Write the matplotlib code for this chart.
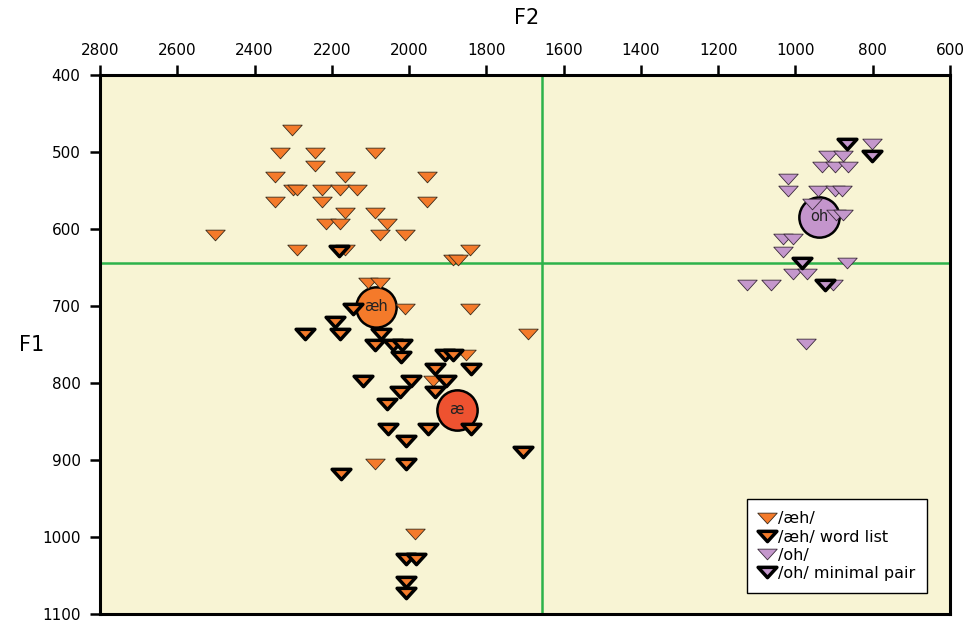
import matplotlib
matplotlib.use('Agg')
import matplotlib.pyplot as plt
from matplotlib.path import Path
from matplotlib.markers import MarkerStyle
import numpy as np

plt.rcParams['font.family'] = ['DejaVu Sans']

# /æh/ tokens (F2, F1)
aeh_f2 = [2302, 2334, 2244, 2244, 2088, 2348, 2166, 1953, 2301, 2289, 2226, 2179, 2134,
          2348, 2225, 1953, 2166, 2088, 2215, 2179, 2056, 2502, 2075, 2011, 2289, 2166,
          1842, 1887, 1873, 2106, 2075, 2011, 1842, 1692, 1853, 1939, 2088, 1985]
aeh_f1 = [471, 501, 501, 518, 501, 533, 533, 533, 549, 549, 549, 549, 549,
          565, 565, 565, 579, 579, 594, 594, 594, 608, 608, 608, 627, 627,
          627, 640, 640, 670, 670, 704, 704, 736, 764, 797, 905, 996]

# /æh/ word list tokens
wl_f2 = [2181, 2146, 2192, 2269, 2179, 2074, 2088, 2041, 2019, 2022, 1907, 1886, 1933,
         1841, 2119, 1995, 1904, 2024, 1933, 2056, 2054, 1950, 1841, 2008, 1704, 2009,
         2177, 2009, 1981, 2009, 2009]
wl_f1 = [628, 704, 721, 736, 736, 736, 751, 751, 751, 766, 764, 764, 782,
         782, 797, 797, 797, 812, 812, 827, 860, 860, 860, 875, 890, 905,
         918, 1029, 1029, 1058, 1073]

# /oh/ tokens
oh_f2 = [803, 915, 876, 932, 898, 863, 1019, 1019, 941, 898, 880, 958, 894, 876,
         1032, 1006, 1032, 867, 1006, 971, 1126, 1064, 902, 973]
oh_f1 = [490, 505, 505, 519, 519, 519, 535, 551, 551, 551, 551, 568, 582, 582,
         613, 613, 630, 644, 658, 658, 673, 673, 673, 749]

# /oh/ minimal pair tokens
mp_f2 = [867, 803, 984, 924]
mp_f1 = [490, 505, 644, 673]

# vowel means
mean_labels = ['æh', 'æ', 'oh']
mean_f2 = [2086, 1877, 939]
mean_f1 = [701, 835, 584]
mean_colors = ['#f47a2a', '#ee5230', '#c495cc']

# overall means (reference lines)
grand_f2 = 1655
grand_f1 = 644

orange = '#f47a2a'
purple = '#c497cc'
# flat downward triangle
tri_path = Path([(-1, 0.55), (1, 0.55), (0, -0.55), (-1, 0.55)],
                [Path.MOVETO, Path.LINETO, Path.LINETO, Path.CLOSEPOLY])
tri = MarkerStyle(tri_path, joinstyle='miter')

fig = plt.figure(figsize=(9.69, 6.26), dpi=100)
ax = fig.add_axes([0.1032, 0.0192, 0.8772, 0.861])
ax.set_facecolor('#f8f4d4')

ax.axvline(grand_f2, color='#2db24a', lw=1.8, zorder=1)
ax.axhline(grand_f1, color='#2db24a', lw=1.8, zorder=1)

for lab, x, y, c in zip(mean_labels, mean_f2, mean_f1, mean_colors):
    ax.plot(x, y, 'o', ms=29, mfc=c, mec='black', mew=1.8, zorder=2)
    ax.text(x, y, lab, ha='center', va='center', fontsize=10.5, color='#222222', zorder=2)

ax.plot(aeh_f2, aeh_f1, ls='none', marker=tri, ms=14, mfc=orange, mec='#3a2a1a',
        mew=0.6, zorder=3, label='/æh/')
ax.plot(wl_f2, wl_f1, ls='none', marker=tri, ms=13.5, mfc=orange, mec='black',
        mew=2.5, zorder=4, label='/æh/ word list')
ax.plot(oh_f2, oh_f1, ls='none', marker=tri, ms=14, mfc=purple, mec='#3a2a3a',
        mew=0.6, zorder=3, label='/oh/')
ax.plot(mp_f2, mp_f1, ls='none', marker=tri, ms=13.5, mfc=purple, mec='black',
        mew=2.5, zorder=4, label='/oh/ minimal pair')

ax.set_xlim(2800, 600)
ax.set_ylim(1100, 400)
ax.set_xticks(np.arange(2800, 599, -200))
ax.set_yticks(np.arange(400, 1101, 100))
ax.xaxis.tick_top()
ax.tick_params(axis='x', direction='out', length=7, width=1.8, labelsize=11, pad=5)
ax.tick_params(axis='y', direction='out', length=7, width=1.8, labelsize=11, pad=7)
for s in ax.spines.values():
    s.set_linewidth(2.2)

fig.text(527 / 969, 1 - 18 / 626, 'F2', ha='center', va='center', fontsize=15)
fig.text(32 / 969, 1 - 345 / 626, 'F1', ha='center', va='center', fontsize=15)

leg = ax.legend(loc='lower right', bbox_to_anchor=(0.973, 0.039), fontsize=11.5,
                frameon=True, fancybox=False, edgecolor='black', framealpha=1,
                handlelength=1.1, handletextpad=0.1, labelspacing=0.2,
                borderpad=0.75, borderaxespad=0, markerscale=1.0)
leg.get_frame().set_linewidth(1.0)

fig.savefig('out.png', dpi=100)
